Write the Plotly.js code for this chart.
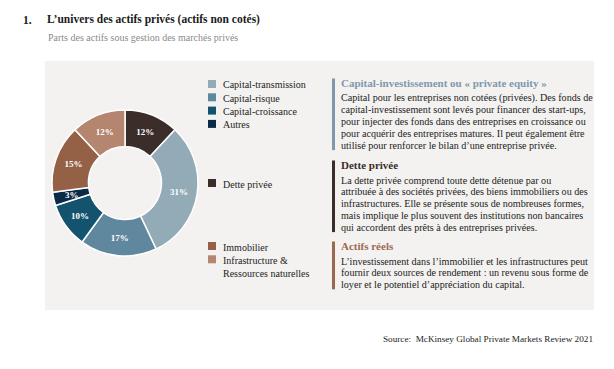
<!DOCTYPE html>
<html>
<head>
<meta charset="utf-8">
<script src="https://cdn.plot.ly/plotly-3.0.1.min.js"></script>
<style>html,body{margin:0;padding:0;background:#fff;}#chart{width:614px;height:369px;}</style>
</head>
<body>
<div id="chart"></div>
<script>
// ---- data ----
const categories = ["Dette privée","Capital-transmission","Capital-risque","Capital-croissance","Autres","Immobilier","Infrastructure & Ressources naturelles"];
const shares = [12, 31, 17, 10, 3, 15, 12];
const colors = ["#3b2d2a","#93aab7","#5f879e","#14536d","#0b2a47","#946046","#b4856f"];

const legendGroups = [
  ["Capital-transmission","Capital-risque","Capital-croissance","Autres"],
  ["Dette privée"],
  ["Immobilier","Infrastructure &<br>Ressources naturelles"]
];

const title = "L’univers des actifs privés (actifs non cotés)";
const subtitle = "Parts des actifs sous gestion des marchés privés";
const source = "Source:  McKinsey Global Private Markets Review 2021";

const blocks = [
  {head: "Capital-investissement ou « private equity »", headColor: "#7f98ac", bar: "#7f98ac",
   body: ["Capital pour les entreprises non cotées (privées). Des fonds de",
          "capital-investissement sont levés pour financer des start-ups,",
          "pour injecter des fonds dans des entreprises en croissance ou",
          "pour acquérir des entreprises matures. Il peut également être",
          "utilisé pour renforcer le bilan d’une entreprise privée."]},
  {head: "Dette privée", headColor: "#3b2d2a", bar: "#3b2d2a",
   body: ["La dette privée comprend toute dette détenue par ou",
          "attribuée à des sociétés privées, des biens immobiliers ou des",
          "infrastructures. Elle se présente sous de nombreuses formes,",
          "mais implique le plus souvent des institutions non bancaires",
          "qui accordent des prêts à des entreprises privées."]},
  {head: "Actifs réels", headColor: "#9a6a50", bar: "#9a6a50",
   body: ["L’investissement dans l’immobilier et les infrastructures peut",
          "fournir deux sources de rendement : un revenu sous forme de",
          "loyer et le potentiel d’appréciation du capital."]}
];

// ---- layout helpers ----
const W = 614, H = 369;
const px = x => x / W;
const py = y => 1 - y / H;
const SERIF = "Liberation Serif, Times New Roman, serif";

const shapes = [];
const annotations = [];

// panel
shapes.push({type:"rect", xref:"paper", yref:"paper", x0:px(45), x1:px(594), y0:py(310), y1:py(61),
  fillcolor:"#f3f2f0", line:{width:0}, layer:"below"});

// titles
annotations.push({xref:"paper", yref:"paper", x:px(21), y:py(20), xanchor:"left", yanchor:"middle",
  text:"<b>1.</b>", showarrow:false, font:{family:SERIF, size:11.5, color:"#1a1a1a"}});
annotations.push({xref:"paper", yref:"paper", x:px(45), y:py(20), xanchor:"left", yanchor:"middle",
  text:"<b>"+title+"</b>", showarrow:false, font:{family:SERIF, size:11.5, color:"#1a1a1a"}});
annotations.push({xref:"paper", yref:"paper", x:px(46), y:py(37), xanchor:"left", yanchor:"middle",
  text:subtitle, showarrow:false, font:{family:SERIF, size:10, color:"#8a8a8a"}});
annotations.push({xref:"paper", yref:"paper", x:px(595), y:py(339), xanchor:"right", yanchor:"middle",
  text:source, showarrow:false, font:{family:SERIF, size:9.2, color:"#222"}});

// legend
const groupStartY = [84, 183, 246];
legendGroups.forEach((g, gi) => {
  g.forEach((name, i) => {
    const y = groupStartY[gi] + i * 13.3;
    const key = name.replace("<br>", " ");
    const c = colors[categories.indexOf(key)];
    shapes.push({type:"rect", xref:"paper", yref:"paper", x0:px(208), x1:px(216), y0:py(y+4), y1:py(y-4),
      fillcolor:c, line:{width:0}});
    annotations.push({xref:"paper", yref:"paper", x:px(221), y:py(y-6.5), xanchor:"left", yanchor:"top",
      text:name, align:"left", showarrow:false, font:{family:SERIF, size:10, color:"#222"}});
  });
});

// text blocks: heading centre y, then body lines every LS px
const headY = [83, 165, 246];
const LS = 11.9;
blocks.forEach((b, bi) => {
  const hy = headY[bi];
  const firstY = hy + 15;
  const lastY = firstY + (b.body.length - 1) * LS;
  shapes.push({type:"rect", xref:"paper", yref:"paper", x0:px(332), x1:px(335), y0:py(lastY + 4.5), y1:py(hy - 4.5),
    fillcolor:b.bar, line:{width:0}});
  annotations.push({xref:"paper", yref:"paper", x:px(339), y:py(hy), xanchor:"left", yanchor:"middle",
    text:"<b>"+b.head+"</b>", showarrow:false, font:{family:SERIF, size:11, color:b.headColor}});
  b.body.forEach((line, li) => {
    annotations.push({xref:"paper", yref:"paper", x:px(339), y:py(firstY + li * LS), xanchor:"left", yanchor:"middle",
      text:line, showarrow:false, font:{family:SERIF, size:10.1, color:"#222"}});
  });
});

// pie geometry (pixels)
const CX = 125, CY = 183, R = 73;
const tiny = shares.map(v => v < 5);

const trace = {
  type:"pie",
  labels:categories,
  values:shares,
  sort:false,
  direction:"clockwise",
  rotation:0,
  hole:0.5,
  marker:{colors:colors, line:{color:"#ffffff", width:1.5}},
  texttemplate:"<b>%{value}%</b>",
  textposition:shares.map((v, i) => tiny[i] ? "none" : "inside"),
  insidetextorientation:"horizontal",
  insidetextfont:{family:SERIF, size:9, color:"#ffffff"},
  showlegend:false,
  hoverinfo:"none",
  domain:{x:[px(CX - R), px(CX + R)], y:[py(CY + R), py(CY - R)]}
};

// full-size labels for slices too thin for Plotly's inside text
const total = shares.reduce((a, b) => a + b, 0);
let cum = 0;
shares.forEach((v, i) => {
  const mid = (cum + v / 2) / total * 2 * Math.PI;
  cum += v;
  if (!tiny[i]) return;
  const r = R * 0.74;
  annotations.push({xref:"paper", yref:"paper", x:px(CX + r * Math.sin(mid)), y:py(CY - r * Math.cos(mid)),
    xanchor:"center", yanchor:"middle", text:"<b>"+v+"%</b>", showarrow:false,
    font:{family:SERIF, size:9, color:"#ffffff"}});
});

const layout = {
  width:W, height:H,
  margin:{l:0, r:0, t:0, b:0},
  paper_bgcolor:"#ffffff",
  plot_bgcolor:"#ffffff",
  showlegend:false,
  shapes:shapes,
  annotations:annotations
};

Plotly.newPlot("chart", [trace], layout, {displayModeBar:false, staticPlot:true});
</script>
</body>
</html>
